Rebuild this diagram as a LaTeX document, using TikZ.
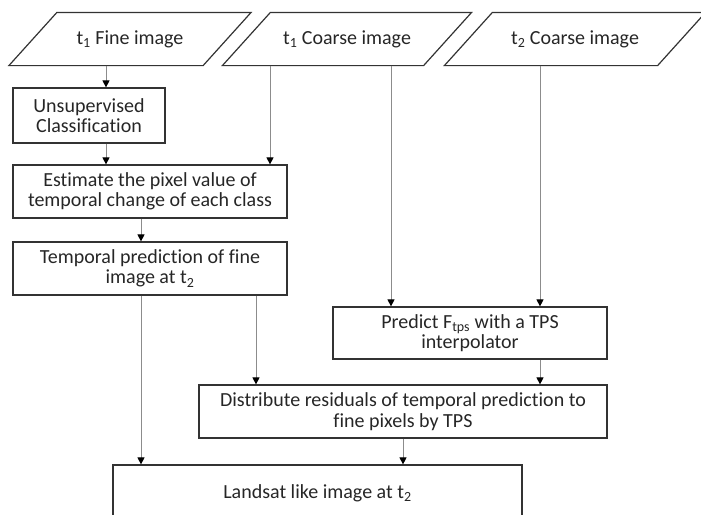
\documentclass[tikz,border=0pt]{standalone}
\usepackage{fontspec}
\setmainfont{Carlito}[Ligatures={NoCommon,NoRequired,NoContextual}]
\usetikzlibrary{arrows.meta}

\begin{document}
\begin{tikzpicture}[x=1pt,y=-1pt,
        box/.style={draw=black!80, line width=1.2pt, align=center, inner sep=0pt, text=black!85, font=\fontsize{20}{20.5}\selectfont},
        data/.style={box, draw=none, minimum height=52pt},
        arr/.style={draw=black!45, line width=0.9pt, -{Triangle[black, width=7pt, length=7pt]}}]
    \useasboundingbox (0,0) rectangle (701,514);
    \def\sl{24pt}

    % input images
    \node[data, minimum width=193pt] (fine) at (130,39) {t\textsubscript{1} Fine image};
    \node[data, minimum width=200pt] (t1c) at (347,39) {t\textsubscript{1} Coarse image};
    \node[data, minimum width=212pt] (t2c) at (575,39) {t\textsubscript{2} Coarse image};
    \foreach \n in {fine,t1c,t2c} {
        \draw[draw=black!80, line width=1.2pt] ([xshift=-\sl]\n.south west) -- ([xshift=\sl]\n.north west)
            -- ([xshift=\sl]\n.north east) -- ([xshift=-\sl]\n.south east) -- cycle;
    }

    % processing steps
    \node[box, minimum width=152pt, minimum height=55pt] (unsup) at (89,115.5) {Unsupervised\\Classification};
    \node[box, minimum width=274pt, minimum height=53pt] (est) at (150,191.5) {Estimate the pixel value of\\temporal change of each class};
    \node[box, minimum width=274pt, minimum height=53pt] (temp) at (150,268.5) {Temporal prediction of fine\\image at t\textsubscript{2}};
    \node[box, minimum width=274pt, minimum height=52pt] (pred) at (470,333) {Predict F\textsubscript{tps} with a TPS\\interpolator};
    \node[box, minimum width=408pt, minimum height=53pt] (dist) at (403,411.5) {Distribute residuals of temporal prediction to\\fine pixels by TPS};
    \node[box, minimum width=409pt, minimum height=56pt] (land) at (317.5,493) {Landsat like image at t\textsubscript{2}};

    % x positions of the vertical links
    \coordinate (xf) at (106,0);
    \coordinate (xa) at (270,0);
    \coordinate (xb) at (141,0);
    \coordinate (xc) at (256,0);
    \coordinate (xd) at (391,0);
    \coordinate (xe) at (540,0);

    \draw[arr] (fine.south -| xf) -- (unsup.north -| xf);
    \draw[arr] (unsup.south -| xf) -- (est.north -| xf);
    \draw[arr] (t1c.south -| xa) -- (est.north -| xa);
    \draw[arr] (est.south -| xb) -- (temp.north -| xb);
    \draw[arr] (temp.south -| xb) -- (land.north -| xb);
    \draw[arr] (temp.south -| xc) -- (dist.north -| xc);
    \draw[arr] (t1c.south -| xd) -- (pred.north -| xd);
    \draw[arr] (t2c.south -| xe) -- (pred.north -| xe);
    \draw[arr] (pred.south -| xe) -- (dist.north -| xe);
    \draw[arr] (dist.south) -- (dist.south |- land.north);
\end{tikzpicture}
\end{document}
